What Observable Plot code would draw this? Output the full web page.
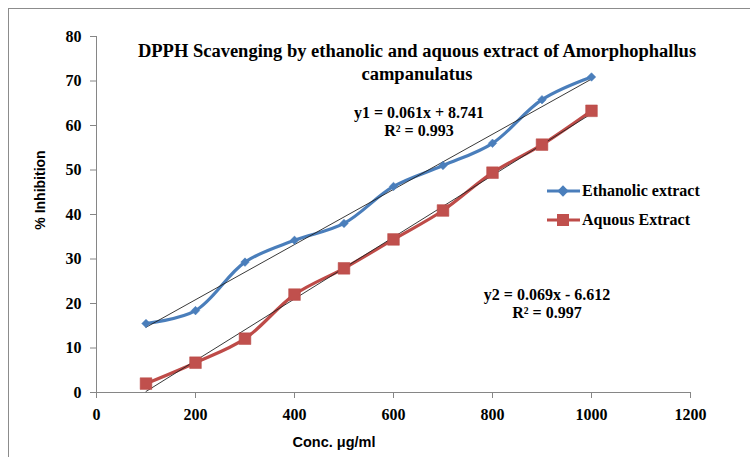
<!DOCTYPE html>
<html><head><meta charset="utf-8">
<script src="https://cdn.jsdelivr.net/npm/d3@7"></script>
<script src="https://cdn.jsdelivr.net/npm/@observablehq/plot@0.6"></script>
<style>
body{margin:0;overflow:hidden;background:#fff}
#wrap{position:relative;width:750px;height:457px;overflow:hidden;background:#fff}
#frame{position:absolute;left:8px;top:8px;width:900px;height:600px;border:1px solid #8c8c8c;box-sizing:border-box}
#chart{position:absolute;left:0;top:0}
.ov{position:absolute;white-space:nowrap;font-family:"Liberation Serif","Times New Roman",serif;font-weight:bold;color:#000}
#title{left:417px;top:40px;transform:translateX(-50%);text-align:center;font-size:18.5px;line-height:23px}
.eq{transform:translateX(-50%);text-align:center;font-size:16px;line-height:18px}
#ytitle{font-family:"Liberation Sans",Arial,sans-serif;font-size:14px;left:40px;top:190px;transform:translate(-50%,-50%) rotate(-90deg)}
#xtitle{font-family:"Liberation Sans",Arial,sans-serif;font-size:14.5px;left:334px;top:442px;transform:translate(-50%,-50%)}
#legend{left:547px;top:176px;font-size:16px}
.li{display:flex;align-items:center;height:29px}
.li svg{margin-right:2px}
</style></head><body>
<div id="wrap">
<div id="frame"></div>
<div id="chart"></div>
<div id="title" class="ov"></div>
<div id="eq1" class="ov eq" style="left:419px;top:104px"></div>
<div id="eq2" class="ov eq" style="left:547px;top:286px"></div>
<div id="ytitle" class="ov"></div>
<div id="xtitle" class="ov"></div>
<div id="legend" class="ov"></div>
</div>
<script>
const concentrations = [100, 200, 300, 400, 500, 600, 700, 800, 900, 1000];
const ethanolic = [15.5, 18.4, 29.3, 34.2, 38.0, 46.3, 51.0, 56.0, 65.8, 70.9];
const aqueous = [2.0, 6.7, 12.1, 22.0, 27.9, 34.4, 40.9, 49.4, 55.7, 63.3];
const seriesNames = ["Ethanolic extract", "Aquous Extract"];
const seriesColors = ["#4A7EBB", "#BE4B48"];
const xTicks = [0, 200, 400, 600, 800, 1000, 1200];
const yTicks = [0, 10, 20, 30, 40, 50, 60, 70, 80];
const titleLines = ["DPPH Scavenging by ethanolic and aquous extract of Amorphophallus", "campanulatus"];
const eq1Lines = ["y1 = 0.061x + 8.741", "R² = 0.993"];
const eq2Lines = ["y2 = 0.069x - 6.612", "R² = 0.997"];
const xLabel = "Conc. μg/ml";
const yLabel = "% Inhibition";

const eth = concentrations.map((x, i) => ({x, y: ethanolic[i], s: seriesNames[0]}));
const aq = concentrations.map((x, i) => ({x, y: aqueous[i], s: seriesNames[1]}));

const axisColor = "#868686";
const chart = Plot.plot({
  width: 750, height: 457,
  marginLeft: 96, marginRight: 60, marginTop: 36, marginBottom: 65,
  style: {fontFamily: "Liberation Serif, Times New Roman, serif", fontSize: "16px", fontWeight: "bold", color: "#000", background: "transparent", overflow: "visible"},
  x: {domain: [0, 1200]},
  y: {domain: [0, 80]},
  marks: [
    Plot.axisX({ticks: xTicks, tickSize: 6, tickPadding: 10, stroke: axisColor, fill: "#000", label: null, tickFormat: d => String(d)}),
    Plot.axisY({ticks: yTicks, tickSize: 6, tickPadding: 9, stroke: axisColor, fill: "#000", label: null, tickFormat: d => String(d)}),
    Plot.ruleX([0], {y1: 0, y2: 80, stroke: axisColor}),
    Plot.ruleY([0], {x1: 0, x2: 1200, stroke: axisColor}),
    Plot.line(eth, {x: "x", y: "y", stroke: seriesColors[0], strokeWidth: 3.2, curve: "catmull-rom"}),
    Plot.line(aq, {x: "x", y: "y", stroke: seriesColors[1], strokeWidth: 3.2, curve: "catmull-rom"}),
    Plot.linearRegressionY(eth, {x: "x", y: "y", stroke: "#222", strokeWidth: 0.9, ci: 0}),
    Plot.linearRegressionY(aq, {x: "x", y: "y", stroke: "#222", strokeWidth: 0.9, ci: 0}),
    Plot.dot(eth, {x: "x", y: "y", symbol: "square", r: 3.4, rotate: 45, fill: seriesColors[0], stroke: seriesColors[0], strokeWidth: 0.5}),
    Plot.dot(aq, {x: "x", y: "y", symbol: "square", r: 6.6, fill: "#C0504D", stroke: "#B84845", strokeWidth: 0.5})
  ]
});
document.getElementById("chart").appendChild(chart);

document.getElementById("title").innerHTML = titleLines.join("<br>");
document.getElementById("eq1").innerHTML = eq1Lines.join("<br>");
document.getElementById("eq2").innerHTML = eq2Lines.join("<br>");
document.getElementById("xtitle").textContent = xLabel;
document.getElementById("ytitle").textContent = yLabel;

const leg = document.getElementById("legend");
seriesNames.forEach((name, i) => {
  const row = document.createElement("div");
  row.className = "li";
  const marker = i === 0
    ? `<rect x="12" y="6" width="8" height="8" transform="rotate(45 16 10)" fill="${seriesColors[0]}"/>`
    : `<rect x="10" y="4" width="12" height="12" fill="#C0504D"/>`;
  row.innerHTML = `<svg width="33" height="20"><line x1="0" y1="10" x2="33" y2="10" stroke="${seriesColors[i]}" stroke-width="3.2"/>${marker}</svg><span>${name}</span>`;
  leg.appendChild(row);
});
</script>
</body></html>
